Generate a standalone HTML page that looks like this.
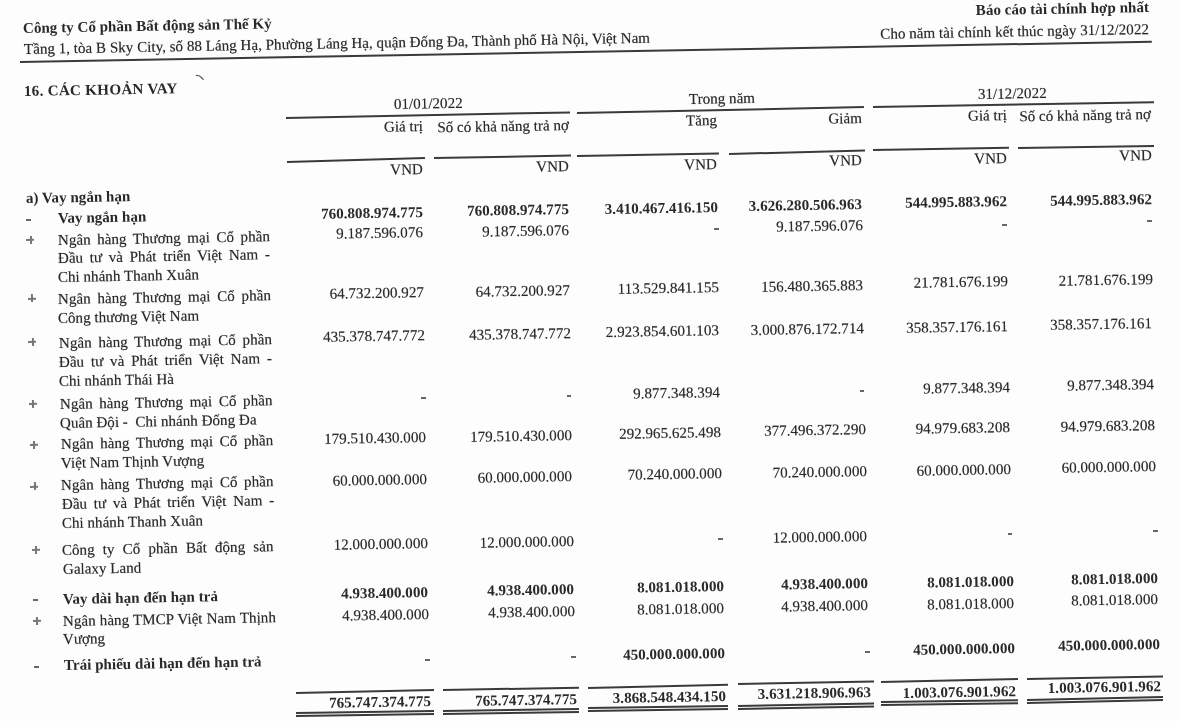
<!DOCTYPE html>
<html><head><meta charset="utf-8"><style>
html,body{margin:0;padding:0;}
body{width:1180px;height:721px;overflow:hidden;background:#fdfdfd;position:relative;font-family:"Liberation Serif",serif;font-size:15.1px;color:#2a2a2a;}
.a{position:absolute;width:0;height:0;transform-origin:0 0;}
.a>span{position:absolute;top:-15px;left:0;line-height:20px;white-space:pre;}
.a>span.r{left:auto;right:0;}
.a>span.j{white-space:normal;text-align:justify;text-align-last:justify;}
.b{font-weight:bold;}
.a>span.b{text-shadow:none !important;}
.a>span{text-shadow:0.4px 0 0 rgba(40,40,40,.13),-0.4px 0 0 rgba(40,40,40,.13),0 0.4px 0 rgba(40,40,40,.13),0 -0.4px 0 rgba(40,40,40,.13);}
.ln{position:absolute;background:#3a3a3a;transform-origin:0 50%;}
</style></head><body><div id=w style="position:absolute;left:0;top:0;width:1180px;height:721px;filter:grayscale(1)">
<div class="a" style="left:23.00px;top:33.10px;transform:rotate(-1.03deg)"><span class="b">Công ty Cổ phần Bất động sản Thế Kỷ</span></div>
<div class="a" style="left:23.80px;top:54.20px;transform:rotate(-1.03deg)"><span class="">Tầng 1, tòa B Sky City, số 88 Láng Hạ, Phường Láng Hạ, quận Đống Đa, Thành phố Hà Nội, Việt Nam</span></div>
<div class="a" style="left:1149.20px;top:12.30px;transform:rotate(-1.03deg)"><span class="r b">Báo cáo tài chính hợp nhất</span></div>
<div class="a" style="left:1149.20px;top:34.40px;transform:rotate(-1.03deg)"><span class="r ">Cho năm tài chính kết thúc ngày 31/12/2022</span></div>
<div class="ln" style="left:20.3px;top:60.70px;width:1131.7px;height:1.8px;transform:rotate(-1.028deg)"></div>
<div class="a" style="left:24.40px;top:95.90px;transform:rotate(-1.03deg)"><span class="b" style="letter-spacing:0.28px">16. CÁC KHOẢN VAY</span></div>
<div class="a" style="left:393.50px;top:108.50px;transform:rotate(-1.03deg)"><span class="">01/01/2022</span></div>
<div class="a" style="left:688.90px;top:104.20px;transform:rotate(-1.03deg)"><span class="">Trong năm</span></div>
<div class="a" style="left:977.70px;top:98.60px;transform:rotate(-1.03deg)"><span class="">31/12/2022</span></div>
<div class="ln" style="left:286.4px;top:117.30px;width:283.6px;height:1.6px;transform:rotate(-1.132deg)"></div>
<div class="ln" style="left:577.0px;top:111.80px;width:286.6px;height:1.6px;transform:rotate(-1.180deg)"></div>
<div class="ln" style="left:872.5px;top:106.10px;width:280.5px;height:1.6px;transform:rotate(-0.960deg)"></div>
<div class="a" style="left:423.00px;top:130.90px;transform:rotate(-1.03deg)"><span class="r ">Giá trị</span></div>
<div class="a" style="left:568.70px;top:129.60px;transform:rotate(-1.03deg)"><span class="r ">Số có khả năng trả nợ</span></div>
<div class="a" style="left:716.60px;top:124.80px;transform:rotate(-1.03deg)"><span class="r ">Tăng</span></div>
<div class="a" style="left:862.10px;top:122.70px;transform:rotate(-1.03deg)"><span class="r ">Giảm</span></div>
<div class="a" style="left:1007.10px;top:120.20px;transform:rotate(-1.03deg)"><span class="r ">Giá trị</span></div>
<div class="a" style="left:1151.00px;top:118.90px;transform:rotate(-1.03deg)"><span class="r ">Số có khả năng trả nợ</span></div>
<div class="ln" style="left:287.1px;top:160.60px;width:137.9px;height:1.6px;transform:rotate(-1.621deg)"></div>
<div class="ln" style="left:433.8px;top:156.90px;width:136.8px;height:1.6px;transform:rotate(-1.005deg)"></div>
<div class="ln" style="left:577.0px;top:154.80px;width:142.3px;height:1.6px;transform:rotate(-1.047deg)"></div>
<div class="ln" style="left:728.7px;top:152.50px;width:135.6px;height:1.6px;transform:rotate(-1.479deg)"></div>
<div class="ln" style="left:873.0px;top:148.60px;width:136.3px;height:1.6px;transform:rotate(-0.925deg)"></div>
<div class="ln" style="left:1018.2px;top:146.70px;width:135.8px;height:1.6px;transform:rotate(-0.844deg)"></div>
<div class="a" style="left:423.00px;top:173.60px;transform:rotate(-1.03deg)"><span class="r ">VND</span></div>
<div class="a" style="left:568.70px;top:170.80px;transform:rotate(-1.03deg)"><span class="r ">VND</span></div>
<div class="a" style="left:717.40px;top:168.50px;transform:rotate(-1.03deg)"><span class="r ">VND</span></div>
<div class="a" style="left:862.30px;top:165.20px;transform:rotate(-1.03deg)"><span class="r ">VND</span></div>
<div class="a" style="left:1007.10px;top:162.60px;transform:rotate(-1.03deg)"><span class="r ">VND</span></div>
<div class="a" style="left:1151.60px;top:160.10px;transform:rotate(-1.03deg)"><span class="r ">VND</span></div>
<div class="a" style="left:423.00px;top:217.00px;transform:rotate(-1.03deg)"><span class="r b">760.808.974.775</span></div>
<div class="a" style="left:568.60px;top:213.70px;transform:rotate(-1.03deg)"><span class="r b">760.808.974.775</span></div>
<div class="a" style="left:717.90px;top:211.90px;transform:rotate(-1.03deg)"><span class="r b">3.410.467.416.150</span></div>
<div class="a" style="left:862.30px;top:208.60px;transform:rotate(-1.03deg)"><span class="r b">3.626.280.506.963</span></div>
<div class="a" style="left:1007.40px;top:206.10px;transform:rotate(-1.03deg)"><span class="r b">544.995.883.962</span></div>
<div class="a" style="left:1151.60px;top:204.10px;transform:rotate(-1.03deg)"><span class="r b">544.995.883.962</span></div>
<div class="a" style="left:423.00px;top:237.40px;transform:rotate(-1.03deg)"><span class="r ">9.187.596.076</span></div>
<div class="a" style="left:568.60px;top:234.80px;transform:rotate(-1.03deg)"><span class="r ">9.187.596.076</span></div>
<div class="ln" style="left:713.8px;top:228.00px;width:4.6px;height:2px;transform:rotate(-1.030deg);background:#666"></div>
<div class="a" style="left:862.80px;top:230.30px;transform:rotate(-1.03deg)"><span class="r ">9.187.596.076</span></div>
<div class="ln" style="left:1002.0px;top:223.50px;width:5.2px;height:2px;transform:rotate(-1.030deg);background:#666"></div>
<div class="ln" style="left:1147.0px;top:220.40px;width:4.7px;height:2px;transform:rotate(-1.030deg);background:#666"></div>
<div class="a" style="left:423.70px;top:297.20px;transform:rotate(-1.03deg)"><span class="r ">64.732.200.927</span></div>
<div class="a" style="left:569.70px;top:295.20px;transform:rotate(-1.03deg)"><span class="r ">64.732.200.927</span></div>
<div class="a" style="left:718.60px;top:291.60px;transform:rotate(-1.03deg)"><span class="r ">113.529.841.155</span></div>
<div class="a" style="left:862.80px;top:289.60px;transform:rotate(-1.03deg)"><span class="r ">156.480.365.883</span></div>
<div class="a" style="left:1007.90px;top:286.20px;transform:rotate(-1.03deg)"><span class="r ">21.781.676.199</span></div>
<div class="a" style="left:1152.80px;top:283.60px;transform:rotate(-1.03deg)"><span class="r ">21.781.676.199</span></div>
<div class="a" style="left:424.80px;top:340.40px;transform:rotate(-1.03deg)"><span class="r ">435.378.747.772</span></div>
<div class="a" style="left:570.50px;top:338.40px;transform:rotate(-1.03deg)"><span class="r ">435.378.747.772</span></div>
<div class="a" style="left:719.20px;top:334.80px;transform:rotate(-1.03deg)"><span class="r ">2.923.854.601.103</span></div>
<div class="a" style="left:864.10px;top:332.80px;transform:rotate(-1.03deg)"><span class="r ">3.000.876.172.714</span></div>
<div class="a" style="left:1007.90px;top:330.80px;transform:rotate(-1.03deg)"><span class="r ">358.357.176.161</span></div>
<div class="a" style="left:1152.30px;top:328.20px;transform:rotate(-1.03deg)"><span class="r ">358.357.176.161</span></div>
<div class="ln" style="left:421.2px;top:397.30px;width:4.8px;height:2px;transform:rotate(-1.030deg);background:#666"></div>
<div class="ln" style="left:566.8px;top:394.80px;width:4.2px;height:2px;transform:rotate(-1.030deg);background:#666"></div>
<div class="a" style="left:719.90px;top:397.20px;transform:rotate(-1.03deg)"><span class="r ">9.877.348.394</span></div>
<div class="ln" style="left:860.4px;top:389.70px;width:4.4px;height:2px;transform:rotate(-1.030deg);background:#666"></div>
<div class="a" style="left:1009.90px;top:391.60px;transform:rotate(-1.03deg)"><span class="r ">9.877.348.394</span></div>
<div class="a" style="left:1154.10px;top:389.10px;transform:rotate(-1.03deg)"><span class="r ">9.877.348.394</span></div>
<div class="a" style="left:426.30px;top:442.20px;transform:rotate(-1.03deg)"><span class="r ">179.510.430.000</span></div>
<div class="a" style="left:571.70px;top:440.40px;transform:rotate(-1.03deg)"><span class="r ">179.510.430.000</span></div>
<div class="a" style="left:720.90px;top:436.60px;transform:rotate(-1.03deg)"><span class="r ">292.965.625.498</span></div>
<div class="a" style="left:865.90px;top:434.10px;transform:rotate(-1.03deg)"><span class="r ">377.496.372.290</span></div>
<div class="a" style="left:1010.40px;top:432.00px;transform:rotate(-1.03deg)"><span class="r ">94.979.683.208</span></div>
<div class="a" style="left:1154.90px;top:429.50px;transform:rotate(-1.03deg)"><span class="r ">94.979.683.208</span></div>
<div class="a" style="left:426.80px;top:483.60px;transform:rotate(-1.03deg)"><span class="r ">60.000.000.000</span></div>
<div class="a" style="left:572.20px;top:481.10px;transform:rotate(-1.03deg)"><span class="r ">60.000.000.000</span></div>
<div class="a" style="left:721.70px;top:477.80px;transform:rotate(-1.03deg)"><span class="r ">70.240.000.000</span></div>
<div class="a" style="left:866.60px;top:476.00px;transform:rotate(-1.03deg)"><span class="r ">70.240.000.000</span></div>
<div class="a" style="left:1011.20px;top:473.50px;transform:rotate(-1.03deg)"><span class="r ">60.000.000.000</span></div>
<div class="a" style="left:1155.90px;top:470.90px;transform:rotate(-1.03deg)"><span class="r ">60.000.000.000</span></div>
<div class="a" style="left:427.60px;top:547.70px;transform:rotate(-1.03deg)"><span class="r ">12.000.000.000</span></div>
<div class="a" style="left:573.80px;top:546.40px;transform:rotate(-1.03deg)"><span class="r ">12.000.000.000</span></div>
<div class="ln" style="left:717.8px;top:537.90px;width:5.1px;height:2px;transform:rotate(-1.030deg);background:#666"></div>
<div class="a" style="left:867.10px;top:540.60px;transform:rotate(-1.03deg)"><span class="r ">12.000.000.000</span></div>
<div class="ln" style="left:1008.0px;top:533.30px;width:4.4px;height:2px;transform:rotate(-1.030deg);background:#666"></div>
<div class="ln" style="left:1152.7px;top:530.30px;width:4.6px;height:2px;transform:rotate(-1.030deg);background:#666"></div>
<div class="a" style="left:428.10px;top:596.80px;transform:rotate(-1.03deg)"><span class="r b">4.938.400.000</span></div>
<div class="a" style="left:574.30px;top:594.20px;transform:rotate(-1.03deg)"><span class="r b">4.938.400.000</span></div>
<div class="a" style="left:723.50px;top:590.90px;transform:rotate(-1.03deg)"><span class="r b">8.081.018.000</span></div>
<div class="a" style="left:867.90px;top:588.40px;transform:rotate(-1.03deg)"><span class="r b">4.938.400.000</span></div>
<div class="a" style="left:1013.50px;top:585.80px;transform:rotate(-1.03deg)"><span class="r b">8.081.018.000</span></div>
<div class="a" style="left:1157.90px;top:582.80px;transform:rotate(-1.03deg)"><span class="r b">8.081.018.000</span></div>
<div class="a" style="left:428.80px;top:618.50px;transform:rotate(-1.03deg)"><span class="r ">4.938.400.000</span></div>
<div class="a" style="left:574.80px;top:615.90px;transform:rotate(-1.03deg)"><span class="r ">4.938.400.000</span></div>
<div class="a" style="left:723.70px;top:612.60px;transform:rotate(-1.03deg)"><span class="r ">8.081.018.000</span></div>
<div class="a" style="left:867.90px;top:610.10px;transform:rotate(-1.03deg)"><span class="r ">4.938.400.000</span></div>
<div class="a" style="left:1013.50px;top:607.50px;transform:rotate(-1.03deg)"><span class="r ">8.081.018.000</span></div>
<div class="a" style="left:1157.90px;top:604.20px;transform:rotate(-1.03deg)"><span class="r ">8.081.018.000</span></div>
<div class="ln" style="left:425.0px;top:658.80px;width:5.0px;height:2px;transform:rotate(-1.030deg);background:#666"></div>
<div class="ln" style="left:571.0px;top:656.20px;width:4.7px;height:2px;transform:rotate(-1.030deg);background:#666"></div>
<div class="a" style="left:725.00px;top:657.90px;transform:rotate(-1.03deg)"><span class="r b">450.000.000.000</span></div>
<div class="ln" style="left:864.8px;top:651.10px;width:4.5px;height:2px;transform:rotate(-1.030deg);background:#666"></div>
<div class="a" style="left:1014.80px;top:652.80px;transform:rotate(-1.03deg)"><span class="r b">450.000.000.000</span></div>
<div class="a" style="left:1159.70px;top:649.00px;transform:rotate(-1.03deg)"><span class="r b">450.000.000.000</span></div>
<div class="a" style="left:430.60px;top:706.20px;transform:rotate(-1.03deg)"><span class="r b">765.747.374.775</span></div>
<div class="a" style="left:576.80px;top:703.60px;transform:rotate(-1.03deg)"><span class="r b">765.747.374.775</span></div>
<div class="a" style="left:726.00px;top:701.10px;transform:rotate(-1.03deg)"><span class="r b">3.868.548.434.150</span></div>
<div class="a" style="left:870.50px;top:697.30px;transform:rotate(-1.03deg)"><span class="r b">3.631.218.906.963</span></div>
<div class="a" style="left:1016.00px;top:695.50px;transform:rotate(-1.03deg)"><span class="r b">1.003.076.901.962</span></div>
<div class="a" style="left:1160.50px;top:691.40px;transform:rotate(-1.03deg)"><span class="r b">1.003.076.901.962</span></div>
<div class="ln" style="left:295.8px;top:692.00px;width:138.0px;height:1.6px;transform:rotate(-1.245deg)"></div>
<div class="ln" style="left:442.7px;top:688.70px;width:136.1px;height:1.6px;transform:rotate(-0.968deg)"></div>
<div class="ln" style="left:588.1px;top:686.90px;width:140.1px;height:1.6px;transform:rotate(-1.349deg)"></div>
<div class="ln" style="left:737.6px;top:683.10px;width:136.1px;height:1.6px;transform:rotate(-1.052deg)"></div>
<div class="ln" style="left:881.4px;top:681.10px;width:136.8px;height:1.6px;transform:rotate(-1.298deg)"></div>
<div class="ln" style="left:1027.1px;top:677.50px;width:136.1px;height:1.6px;transform:rotate(-1.052deg)"></div>
<div class="ln" style="left:295.8px;top:712.35px;width:138.0px;height:1.5px;transform:rotate(-0.830deg)"></div>
<div class="ln" style="left:295.8px;top:715.25px;width:138.0px;height:1.5px;transform:rotate(-0.830deg)"></div>
<div class="ln" style="left:442.7px;top:710.15px;width:136.1px;height:1.5px;transform:rotate(-0.884deg)"></div>
<div class="ln" style="left:442.7px;top:713.05px;width:136.1px;height:1.5px;transform:rotate(-0.884deg)"></div>
<div class="ln" style="left:588.1px;top:707.25px;width:140.1px;height:1.5px;transform:rotate(-0.818deg)"></div>
<div class="ln" style="left:588.1px;top:710.15px;width:140.1px;height:1.5px;transform:rotate(-0.818deg)"></div>
<div class="ln" style="left:737.6px;top:704.75px;width:136.1px;height:1.5px;transform:rotate(-1.052deg)"></div>
<div class="ln" style="left:737.6px;top:707.65px;width:136.1px;height:1.5px;transform:rotate(-1.052deg)"></div>
<div class="ln" style="left:881.4px;top:700.95px;width:136.8px;height:1.5px;transform:rotate(-0.754deg)"></div>
<div class="ln" style="left:881.4px;top:703.85px;width:136.8px;height:1.5px;transform:rotate(-0.754deg)"></div>
<div class="ln" style="left:1027.1px;top:698.95px;width:136.1px;height:1.5px;transform:rotate(-1.305deg)"></div>
<div class="ln" style="left:1027.1px;top:701.85px;width:136.1px;height:1.5px;transform:rotate(-1.305deg)"></div>
<div class="a" style="left:25.70px;top:202.50px;transform:rotate(-1.03deg)"><span class="b">a) Vay ngắn hạn</span></div>
<div class="ln" style="left:26.1px;top:219.30px;width:4.9px;height:2px;transform:rotate(-1.030deg);background:#666"></div>
<div class="a" style="left:57.60px;top:222.80px;transform:rotate(-1.03deg)"><span class="b">Vay ngắn hạn</span></div>
<div class="ln" style="left:26.3px;top:239.30px;width:8.4px;height:2px;transform:rotate(-1.03deg);background:#777"></div>
<div class="ln" style="left:29.50px;top:236.1px;width:2px;height:8.4px;transform:rotate(-1.03deg);transform-origin:50% 50%;background:#777"></div>
<div class="a" style="left:57.60px;top:244.60px;transform:rotate(-1.03deg)"><span class="j " style="width:212px">Ngân hàng Thương mại Cổ phần</span></div>
<div class="a" style="left:57.60px;top:263.30px;transform:rotate(-1.03deg)"><span class="j " style="width:212px">Đầu tư và Phát triển Việt Nam -</span></div>
<div class="a" style="left:57.60px;top:281.90px;transform:rotate(-1.03deg)"><span class="">Chi nhánh Thanh Xuân</span></div>
<div class="ln" style="left:27.6px;top:297.60px;width:8.4px;height:2px;transform:rotate(-1.03deg);background:#777"></div>
<div class="ln" style="left:30.80px;top:294.4px;width:2px;height:8.4px;transform:rotate(-1.03deg);transform-origin:50% 50%;background:#777"></div>
<div class="a" style="left:58.10px;top:304.10px;transform:rotate(-1.03deg)"><span class="j " style="width:213px">Ngân hàng Thương mại Cổ phần</span></div>
<div class="a" style="left:58.10px;top:322.50px;transform:rotate(-1.03deg)"><span class="">Công thương Việt Nam</span></div>
<div class="ln" style="left:28.3px;top:341.30px;width:8.4px;height:2px;transform:rotate(-1.03deg);background:#777"></div>
<div class="ln" style="left:31.50px;top:338.1px;width:2px;height:8.4px;transform:rotate(-1.03deg);transform-origin:50% 50%;background:#777"></div>
<div class="a" style="left:58.60px;top:347.50px;transform:rotate(-1.03deg)"><span class="j " style="width:213px">Ngân hàng Thương mại Cổ phần</span></div>
<div class="a" style="left:58.60px;top:366.90px;transform:rotate(-1.03deg)"><span class="j " style="width:213px">Đầu tư và Phát triển Việt Nam -</span></div>
<div class="a" style="left:58.60px;top:385.80px;transform:rotate(-1.03deg)"><span class="">Chi nhánh Thái Hà</span></div>
<div class="ln" style="left:28.8px;top:403.20px;width:8.4px;height:2px;transform:rotate(-1.03deg);background:#777"></div>
<div class="ln" style="left:32.00px;top:400.0px;width:2px;height:8.4px;transform:rotate(-1.03deg);transform-origin:50% 50%;background:#777"></div>
<div class="a" style="left:59.90px;top:408.60px;transform:rotate(-1.03deg)"><span class="j " style="width:212.5px">Ngân hàng Thương mại Cổ phần</span></div>
<div class="a" style="left:59.90px;top:427.50px;transform:rotate(-1.03deg)"><span class="">Quân Đội -  Chi nhánh Đống Đa</span></div>
<div class="ln" style="left:29.6px;top:443.80px;width:8.4px;height:2px;transform:rotate(-1.03deg);background:#777"></div>
<div class="ln" style="left:32.80px;top:440.6px;width:2px;height:8.4px;transform:rotate(-1.03deg);transform-origin:50% 50%;background:#777"></div>
<div class="a" style="left:60.60px;top:449.10px;transform:rotate(-1.03deg)"><span class="j " style="width:212.3px">Ngân hàng Thương mại Cổ phần</span></div>
<div class="a" style="left:60.60px;top:467.50px;transform:rotate(-1.03deg)"><span class="">Việt Nam Thịnh Vượng</span></div>
<div class="ln" style="left:30.4px;top:485.50px;width:8.4px;height:2px;transform:rotate(-1.03deg);background:#777"></div>
<div class="ln" style="left:33.60px;top:482.3px;width:2px;height:8.4px;transform:rotate(-1.03deg);transform-origin:50% 50%;background:#777"></div>
<div class="a" style="left:61.10px;top:490.20px;transform:rotate(-1.03deg)"><span class="j " style="width:212.5px">Ngân hàng Thương mại Cổ phần</span></div>
<div class="a" style="left:61.90px;top:508.60px;transform:rotate(-1.03deg)"><span class="j " style="width:212.3px">Đầu tư và Phát triển Việt Nam -</span></div>
<div class="a" style="left:61.90px;top:528.10px;transform:rotate(-1.03deg)"><span class="">Chi nhánh Thanh Xuân</span></div>
<div class="ln" style="left:32.2px;top:548.90px;width:8.4px;height:2px;transform:rotate(-1.03deg);background:#777"></div>
<div class="ln" style="left:35.40px;top:545.7px;width:2px;height:8.4px;transform:rotate(-1.03deg);transform-origin:50% 50%;background:#777"></div>
<div class="a" style="left:62.10px;top:554.70px;transform:rotate(-1.03deg)"><span class="j " style="width:211.5px">Công ty Cổ phần Bất động sản</span></div>
<div class="a" style="left:62.60px;top:574.10px;transform:rotate(-1.03deg)"><span class="">Galaxy Land</span></div>
<div class="ln" style="left:33.0px;top:599.00px;width:4.6px;height:2px;transform:rotate(-1.030deg);background:#666"></div>
<div class="a" style="left:63.20px;top:603.50px;transform:rotate(-1.03deg)"><span class="b">Vay dài hạn đến hạn trả</span></div>
<div class="ln" style="left:32.7px;top:619.90px;width:8.4px;height:2px;transform:rotate(-1.03deg);background:#777"></div>
<div class="ln" style="left:35.90px;top:616.7px;width:2px;height:8.4px;transform:rotate(-1.03deg);transform-origin:50% 50%;background:#777"></div>
<div class="a" style="left:63.20px;top:625.60px;transform:rotate(-1.03deg)"><span class="j " style="width:213px">Ngân hàng TMCP Việt Nam Thịnh</span></div>
<div class="a" style="left:63.20px;top:644.40px;transform:rotate(-1.03deg)"><span class="">Vượng</span></div>
<div class="ln" style="left:34.2px;top:666.20px;width:4.6px;height:2px;transform:rotate(-1.030deg);background:#666"></div>
<div class="a" style="left:64.40px;top:669.60px;transform:rotate(-1.03deg)"><span class="b">Trái phiếu dài hạn đến hạn trả</span></div>
<svg style="position:absolute;left:0;top:0" width="260" height="100"><path d="M196.3 75.3 Q199.6 75.3 200.8 77 L203.2 79.4" fill="none" stroke="#5a5a5a" stroke-width="1.3" stroke-linecap="round"/></svg>
</div></body></html>
